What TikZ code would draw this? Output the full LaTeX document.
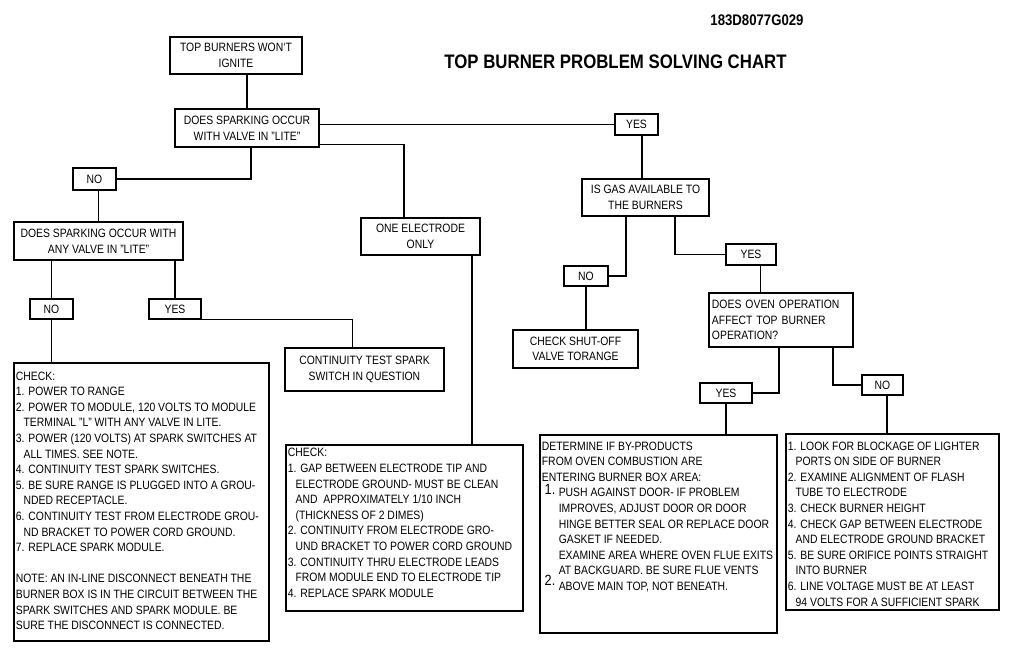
\documentclass[tikz,border=0pt]{standalone}
\usepackage{fontspec}
\setmainfont{Liberation Sans}[FakeStretch=0.86]
\newcommand\boxfont{\fontsize{8.6pt}{11.1pt}\selectfont}
\newcommand\contind{\hspace*{5.5pt}}
\newcommand\detind{\hspace*{12pt}}
\newcommand\bignum[2]{\makebox[12pt][l]{\hspace{2pt}\raisebox{#2}[0pt][0pt]{\fontsize{10.5pt}{10pt}\selectfont #1}}}
\begin{document}
\begin{tikzpicture}[x=0.025cm,y=-0.025cm,
	qbox/.style={draw,line width=1.1pt,inner sep=0pt,align=center,font=\boxfont},
	panel/.style={draw,line width=1.1pt,anchor=north west,inner xsep=1.5pt,inner ysep=0pt,font=\boxfont},
	link/.style={line width=1pt}]
	\useasboundingbox (0,0) rectangle (1009,649);
	\node[font=\bfseries\fontsize{10.9pt}{12pt}\selectfont] (code) at (757,20) {183D8077G029};
	\node[font=\bfseries\fontsize{13.9pt}{16pt}\selectfont] (title) at (615.5,62) {TOP BURNER PROBLEM SOLVING CHART};
	\node[qbox,minimum width=3.3cm,minimum height=0.925cm] (ignite) at (236,55.5) {TOP BURNERS WON`T\\IGNITE};
	\node[qbox,minimum width=3.6cm,minimum height=0.95cm] (spark1) at (247,128) {DOES SPARKING OCCUR\\WITH VALVE IN "LITE"};
	\node[qbox,minimum width=1.075cm,minimum height=0.525cm] (yes1) at (636.5,124.5) {YES};
	\node[qbox,minimum width=1.075cm,minimum height=0.55cm] (no1) at (94.5,179) {NO};
	\node[qbox,minimum width=2.975cm,minimum height=0.925cm] (electrode) at (420.5,236.5) {ONE ELECTRODE\\ONLY};
	\node[qbox,minimum width=4.225cm,minimum height=0.95cm] (anyv) at (98.5,241) {DOES SPARKING OCCUR WITH\\ANY VALVE IN "LITE"};
	\node[qbox,minimum width=1.075cm,minimum height=0.5cm] (no2) at (51.5,309) {NO};
	\node[qbox,minimum width=1.3cm,minimum height=0.5cm] (yes2) at (175,309) {YES};
	\node[qbox,minimum width=3.975cm,minimum height=1.075cm] (cont) at (364.5,369.5) {CONTINUITY TEST SPARK\\SWITCH IN QUESTION};
	\node[qbox,minimum width=3.175cm,minimum height=0.925cm] (gas) at (645.5,197.5) {IS GAS AVAILABLE TO\\THE BURNERS};
	\node[qbox,minimum width=1.1cm,minimum height=0.5cm] (no3) at (586,276) {NO};
	\node[qbox,minimum width=1.25cm,minimum height=0.525cm] (yes3) at (751,254.5) {YES};
	\node[qbox,minimum width=3.125cm,minimum height=0.95cm] (shut) at (575.5,349) {CHECK SHUT-OFF\\VALVE TORANGE};
	\node[qbox,align=left,text width=3.45cm,minimum width=3.6cm,minimum height=1.35cm] (oven) at (781,320) {DOES OVEN OPERATION\\AFFECT TOP BURNER\\OPERATION?};
	\node[qbox,minimum width=1.3cm,minimum height=0.5cm] (yes4) at (726,393) {YES};
	\node[qbox,minimum width=1.025cm,minimum height=0.5cm] (no4) at (882.5,385) {NO};
	\node[panel] (chk1) at (13,362) {\parbox[t][6.95cm][t]{\dimexpr6.375cm-3pt}{\vspace*{4.5pt}\strut CHECK:\\
		1. POWER TO RANGE\\
		2. POWER TO MODULE, 120 VOLTS TO MODULE\\
		\contind TERMINAL "L" WITH ANY VALVE IN LITE.\\
		3. POWER (120 VOLTS) AT SPARK SWITCHES AT\\
		\contind ALL TIMES. SEE NOTE.\\
		4. CONTINUITY TEST SPARK SWITCHES.\\
		5. BE SURE RANGE IS PLUGGED INTO A GROU-\\
		\contind NDED RECEPTACLE.\\
		6. CONTINUITY TEST FROM ELECTRODE GROU-\\
		\contind ND BRACKET TO POWER CORD GROUND.\\
		7. REPLACE SPARK MODULE.\\[11.1pt]
		NOTE: AN IN-LINE DISCONNECT BENEATH THE\\
		BURNER BOX IS IN THE CIRCUIT BETWEEN THE\\
		SPARK SWITCHES AND SPARK MODULE. BE\\
		SURE THE DISCONNECT IS CONNECTED.}};
	\node[panel] (chk2) at (285,444) {\parbox[t][4.15cm][t]{\dimexpr5.925cm-3pt}{\vspace*{0.8pt}\strut CHECK:\\
		1. GAP BETWEEN ELECTRODE TIP AND\\
		\contind ELECTRODE GROUND- MUST BE CLEAN\\
		\contind AND \ APPROXIMATELY 1/10 INCH\\
		\contind (THICKNESS OF 2 DIMES)\\
		2. CONTINUITY FROM ELECTRODE GRO-\\
		\contind UND BRACKET TO POWER CORD GROUND\\
		3. CONTINUITY THRU ELECTRODE LEADS\\
		\contind FROM MODULE END TO ELECTRODE TIP\\
		4. REPLACE SPARK MODULE}};
	\node[panel] (det) at (539,434) {\parbox[t][4.95cm][t]{\dimexpr5.925cm-3pt}{\vspace*{3.1pt}\strut DETERMINE IF BY-PRODUCTS\\
		FROM OVEN COMBUSTION ARE\\
		ENTERING BURNER BOX AREA:\\
		\bignum{1.}{2pt}PUSH AGAINST DOOR- IF PROBLEM\\
		\detind IMPROVES, ADJUST DOOR OR DOOR\\
		\detind HINGE BETTER SEAL OR REPLACE DOOR\\
		\detind GASKET IF NEEDED.\\
		\detind EXAMINE AREA WHERE OVEN FLUE EXITS\\
		\detind AT BACKGUARD. BE SURE FLUE VENTS\\
		\bignum{2.}{3.9pt}ABOVE MAIN TOP, NOT BENEATH.}};
	\node[panel] (chk4) at (785,433) {\parbox[t][4.4cm][t]{\dimexpr5.325cm-3pt}{\vspace*{3.8pt}\strut 1. LOOK FOR BLOCKAGE OF LIGHTER\\
		\contind PORTS ON SIDE OF BURNER\\
		2. EXAMINE ALIGNMENT OF FLASH\\
		\contind TUBE TO ELECTRODE\\
		3. CHECK BURNER HEIGHT\\
		4. CHECK GAP BETWEEN ELECTRODE\\
		\contind AND ELECTRODE GROUND BRACKET\\
		5. BE SURE ORIFICE POINTS STRAIGHT\\
		\contind INTO BURNER\\
		6. LINE VOLTAGE MUST BE AT LEAST\\
		\contind 94 VOLTS FOR A SUFFICIENT SPARK}};
	\coordinate (e1) at ([xshift=1.29cm]electrode.south);
	\coordinate (g0) at ([xshift=-0.09cm]gas.north);
	\coordinate (y3) at ([xshift=0.23cm]yes3.south);
	\coordinate (n4) at ([xshift=0.11cm]no4.south);
	\draw[link] (spark1.north) -- (spark1.north |- ignite.south);
	\draw[link] (spark1.east |- yes1.west) -- (yes1.west);
	\draw[link] ([yshift=0.075cm]spark1.south east) -| ([xshift=-0.41cm]electrode.north);
	\draw[link] ([xshift=0.1cm]spark1.south) |- (no1.east);
	\draw[link] (anyv.north) -- (anyv.north |- no1.south);
	\draw[link] (no2.north) -- (no2.north |- anyv.south);
	\draw[link] (yes2.north) -- (yes2.north |- anyv.south);
	\draw[link] (yes2.south east) -| ([xshift=-0.3cm]cont.north);
	\draw[link] (no2.south) -- (no2.south |- chk1.north);
	\draw[link] (e1) -- (e1 |- chk2.north);
	\draw[link] (g0) -- (g0 |- yes1.south);
	\draw[link] ([xshift=-0.49cm]gas.south) |- (no3.east);
	\draw[link] ([xshift=0.74cm]gas.south) |- (yes3.west);
	\draw[link] (no3.south) -- (no3.south |- shut.north);
	\draw[link] (y3) -- (y3 |- oven.north);
	\draw[link] ([xshift=-0.05cm]oven.south) |- (yes4.east);
	\draw[link] ([xshift=1.3cm]oven.south) |- (no4.west);
	\draw[link] (yes4.south) -- (yes4.south |- det.north);
	\draw[link] (n4) -- (n4 |- chk4.north);
\end{tikzpicture}
\end{document}
